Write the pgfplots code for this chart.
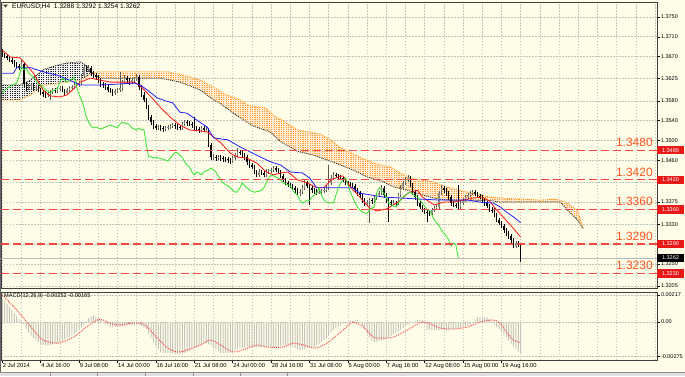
\documentclass[border=0pt]{standalone}
\usepackage{fontspec}
\setmainfont{Liberation Sans}
\usepackage{pgfplots}
\pgfplotsset{compat=1.18}
\usepackage{pgfplotstable}
\usetikzlibrary{patterns}

\definecolor{cream}{RGB}{255,253,232}
\definecolor{tenkan}{RGB}{255,20,20}
\definecolor{kijun}{RGB}{30,30,255}
\definecolor{chikou}{RGB}{50,225,50}
\definecolor{sandy}{RGB}{255,155,40}
\definecolor{kumodark}{RGB}{30,30,30}
\definecolor{levelred}{RGB}{240,70,70}
\definecolor{labelred}{RGB}{255,85,35}
\definecolor{boxred}{RGB}{232,25,25}
\definecolor{gridc}{RGB}{195,195,188}
\definecolor{bullc}{RGB}{140,140,130}
\definecolor{bullw}{RGB}{90,90,85}
\definecolor{histc}{RGB}{198,198,190}
\definecolor{sigc}{RGB}{245,70,70}

\pgfdeclarepatternformonly{kumo}{\pgfqpoint{-0.1pt}{-0.1pt}}{\pgfqpoint{2.5pt}{2.1pt}}{\pgfqpoint{2.4pt}{2pt}}{\pgfpathrectangle{\pgfqpoint{0pt}{0pt}}{\pgfqpoint{1.2pt}{1.1pt}}\pgfusepath{fill}}

\pgfplotstableread{
i o h l c
0 1.3680 1.3686 1.3668 1.3673
1 1.3673 1.3678 1.3666 1.3671
2 1.3671 1.3675 1.3662 1.3667
3 1.3667 1.3671 1.3659 1.3663
4 1.3663 1.3668 1.3655 1.3659
5 1.3659 1.3663 1.3648 1.3653
6 1.3653 1.3658 1.3646 1.3651
7 1.3651 1.3655 1.3642 1.3647
8 1.3647 1.3662 1.3644 1.3655
9 1.3655 1.3659 1.3608 1.3614
10 1.3614 1.3619 1.3600 1.3606
11 1.3606 1.3614 1.3602 1.3610
12 1.3610 1.3617 1.3605 1.3612
13 1.3612 1.3616 1.3601 1.3606
14 1.3606 1.3612 1.3600 1.3608
15 1.3608 1.3612 1.3597 1.3602
16 1.3602 1.3606 1.3592 1.3598
17 1.3598 1.3602 1.3588 1.3594
18 1.3594 1.3599 1.3586 1.3592
19 1.3592 1.3600 1.3587 1.3596
20 1.3596 1.3603 1.3582 1.3598
21 1.3598 1.3607 1.3594 1.3602
22 1.3602 1.3606 1.3595 1.3600
23 1.3600 1.3609 1.3596 1.3604
24 1.3604 1.3611 1.3599 1.3606
25 1.3606 1.3610 1.3597 1.3602
26 1.3602 1.3605 1.3590 1.3596
27 1.3596 1.3606 1.3592 1.3602
28 1.3602 1.3611 1.3598 1.3606
29 1.3606 1.3613 1.3602 1.3608
30 1.3608 1.3617 1.3604 1.3612
31 1.3612 1.3619 1.3607 1.3614
32 1.3614 1.3621 1.3609 1.3616
33 1.3616 1.3635 1.3612 1.3630
34 1.3630 1.3655 1.3626 1.3649
35 1.3649 1.3653 1.3638 1.3643
36 1.3643 1.3652 1.3639 1.3647
37 1.3647 1.3651 1.3631 1.3636
38 1.3636 1.3640 1.3627 1.3632
39 1.3632 1.3637 1.3623 1.3628
40 1.3628 1.3632 1.3617 1.3622
41 1.3622 1.3626 1.3609 1.3614
42 1.3614 1.3618 1.3606 1.3612
43 1.3612 1.3616 1.3603 1.3608
44 1.3608 1.3612 1.3597 1.3602
45 1.3602 1.3607 1.3595 1.3600
46 1.3600 1.3605 1.3590 1.3596
47 1.3596 1.3605 1.3592 1.3600
48 1.3600 1.3607 1.3596 1.3602
49 1.3602 1.3639 1.3598 1.3606
50 1.3606 1.3623 1.3601 1.3618
51 1.3618 1.3632 1.3614 1.3626
52 1.3626 1.3630 1.3617 1.3622
53 1.3622 1.3626 1.3613 1.3618
54 1.3618 1.3627 1.3614 1.3622
55 1.3622 1.3629 1.3617 1.3624
56 1.3624 1.3634 1.3620 1.3628
57 1.3628 1.3632 1.3603 1.3608
58 1.3608 1.3612 1.3587 1.3592
59 1.3592 1.3597 1.3577 1.3582
60 1.3582 1.3586 1.3563 1.3568
61 1.3568 1.3572 1.3542 1.3547
62 1.3547 1.3552 1.3532 1.3537
63 1.3537 1.3541 1.3524 1.3529
64 1.3529 1.3533 1.3520 1.3525
65 1.3525 1.3532 1.3521 1.3527
66 1.3527 1.3531 1.3519 1.3525
67 1.3525 1.3529 1.3517 1.3523
68 1.3523 1.3530 1.3519 1.3525
69 1.3525 1.3532 1.3521 1.3527
70 1.3527 1.3534 1.3523 1.3529
71 1.3529 1.3536 1.3525 1.3531
72 1.3531 1.3535 1.3524 1.3529
73 1.3529 1.3533 1.3521 1.3527
74 1.3527 1.3532 1.3520 1.3526
75 1.3526 1.3538 1.3522 1.3533
76 1.3533 1.3542 1.3529 1.3537
77 1.3537 1.3541 1.3530 1.3535
78 1.3535 1.3540 1.3529 1.3534
79 1.3534 1.3538 1.3526 1.3531
80 1.3531 1.3547 1.3520 1.3525
81 1.3525 1.3529 1.3518 1.3523
82 1.3523 1.3527 1.3515 1.3521
83 1.3521 1.3530 1.3517 1.3525
84 1.3525 1.3529 1.3516 1.3521
85 1.3521 1.3527 1.3517 1.3522
86 1.3522 1.3526 1.3486 1.3491
87 1.3491 1.3495 1.3460 1.3466
88 1.3466 1.3472 1.3461 1.3467
89 1.3467 1.3471 1.3459 1.3464
90 1.3464 1.3470 1.3460 1.3466
91 1.3466 1.3470 1.3459 1.3464
92 1.3464 1.3468 1.3457 1.3463
93 1.3463 1.3467 1.3456 1.3462
94 1.3462 1.3466 1.3454 1.3460
95 1.3460 1.3464 1.3452 1.3458
96 1.3458 1.3469 1.3454 1.3464
97 1.3464 1.3475 1.3460 1.3470
98 1.3470 1.3485 1.3466 1.3476
99 1.3476 1.3481 1.3470 1.3475
100 1.3475 1.3479 1.3465 1.3470
101 1.3470 1.3474 1.3461 1.3466
102 1.3466 1.3470 1.3451 1.3456
103 1.3456 1.3460 1.3445 1.3450
104 1.3450 1.3454 1.3441 1.3446
105 1.3446 1.3450 1.3431 1.3436
106 1.3436 1.3440 1.3425 1.3430
107 1.3430 1.3441 1.3426 1.3436
108 1.3436 1.3440 1.3429 1.3434
109 1.3434 1.3438 1.3425 1.3430
110 1.3430 1.3441 1.3426 1.3436
111 1.3436 1.3443 1.3432 1.3438
112 1.3438 1.3445 1.3434 1.3440
113 1.3440 1.3449 1.3436 1.3444
114 1.3444 1.3448 1.3436 1.3440
115 1.3440 1.3444 1.3431 1.3436
116 1.3436 1.3440 1.3423 1.3428
117 1.3428 1.3432 1.3415 1.3420
118 1.3420 1.3424 1.3409 1.3414
119 1.3414 1.3418 1.3405 1.3410
120 1.3410 1.3414 1.3403 1.3408
121 1.3408 1.3412 1.3399 1.3404
122 1.3404 1.3408 1.3394 1.3399
123 1.3399 1.3403 1.3390 1.3395
124 1.3395 1.3401 1.3388 1.3396
125 1.3396 1.3409 1.3392 1.3404
126 1.3404 1.3419 1.3400 1.3414
127 1.3414 1.3418 1.3403 1.3408
128 1.3408 1.3412 1.3369 1.3404
129 1.3404 1.3408 1.3394 1.3399
130 1.3399 1.3403 1.3392 1.3397
131 1.3397 1.3401 1.3390 1.3395
132 1.3395 1.3400 1.3391 1.3396
133 1.3396 1.3401 1.3392 1.3397
134 1.3397 1.3404 1.3393 1.3399
135 1.3399 1.3409 1.3395 1.3404
136 1.3404 1.3450 1.3400 1.3414
137 1.3414 1.3429 1.3410 1.3424
138 1.3424 1.3435 1.3420 1.3430
139 1.3430 1.3434 1.3423 1.3428
140 1.3428 1.3432 1.3421 1.3426
141 1.3426 1.3430 1.3419 1.3424
142 1.3424 1.3428 1.3415 1.3420
143 1.3420 1.3424 1.3409 1.3414
144 1.3414 1.3418 1.3407 1.3412
145 1.3412 1.3416 1.3405 1.3410
146 1.3410 1.3414 1.3403 1.3408
147 1.3408 1.3412 1.3394 1.3399
148 1.3399 1.3403 1.3388 1.3393
149 1.3393 1.3397 1.3384 1.3389
150 1.3389 1.3393 1.3374 1.3379
151 1.3379 1.3383 1.3367 1.3373
152 1.3373 1.3380 1.3369 1.3375
153 1.3375 1.3383 1.3333 1.3379
154 1.3379 1.3384 1.3372 1.3378
155 1.3378 1.3390 1.3374 1.3385
156 1.3385 1.3394 1.3380 1.3389
157 1.3389 1.3398 1.3385 1.3393
158 1.3393 1.3409 1.3389 1.3404
159 1.3404 1.3408 1.3384 1.3389
160 1.3389 1.3393 1.3374 1.3379
161 1.3379 1.3383 1.3335 1.3375
162 1.3375 1.3380 1.3368 1.3373
163 1.3373 1.3379 1.3369 1.3374
164 1.3374 1.3378 1.3368 1.3373
165 1.3373 1.3394 1.3369 1.3389
166 1.3389 1.3409 1.3385 1.3404
167 1.3404 1.3418 1.3400 1.3414
168 1.3414 1.3425 1.3410 1.3420
169 1.3420 1.3430 1.3416 1.3424
170 1.3424 1.3428 1.3405 1.3410
171 1.3410 1.3414 1.3390 1.3395
172 1.3395 1.3399 1.3380 1.3385
173 1.3385 1.3389 1.3368 1.3373
174 1.3373 1.3377 1.3360 1.3365
175 1.3365 1.3369 1.3354 1.3359
176 1.3359 1.3363 1.3350 1.3355
177 1.3355 1.3359 1.3335 1.3353
178 1.3353 1.3357 1.3347 1.3352
179 1.3352 1.3363 1.3348 1.3359
180 1.3359 1.3368 1.3355 1.3363
181 1.3363 1.3369 1.3359 1.3365
182 1.3365 1.3398 1.3361 1.3393
183 1.3393 1.3410 1.3389 1.3404
184 1.3404 1.3408 1.3394 1.3399
185 1.3399 1.3403 1.3388 1.3393
186 1.3393 1.3397 1.3380 1.3385
187 1.3385 1.3389 1.3368 1.3373
188 1.3373 1.3377 1.3364 1.3369
189 1.3369 1.3373 1.3362 1.3367
190 1.3367 1.3410 1.3360 1.3365
191 1.3365 1.3378 1.3361 1.3373
192 1.3373 1.3384 1.3369 1.3379
193 1.3379 1.3390 1.3375 1.3385
194 1.3385 1.3394 1.3381 1.3389
195 1.3389 1.3398 1.3385 1.3393
196 1.3393 1.3400 1.3389 1.3395
197 1.3395 1.3399 1.3387 1.3391
198 1.3391 1.3395 1.3383 1.3387
199 1.3387 1.3391 1.3381 1.3385
200 1.3385 1.3389 1.3374 1.3379
201 1.3379 1.3383 1.3368 1.3373
202 1.3373 1.3377 1.3362 1.3367
203 1.3367 1.3371 1.3354 1.3359
204 1.3359 1.3364 1.3353 1.3358
205 1.3358 1.3362 1.3344 1.3349
206 1.3349 1.3353 1.3334 1.3339
207 1.3339 1.3343 1.3328 1.3333
208 1.3333 1.3337 1.3322 1.3327
209 1.3327 1.3331 1.3313 1.3318
210 1.3318 1.3322 1.3307 1.3312
211 1.3312 1.3316 1.3301 1.3306
212 1.3306 1.3310 1.3293 1.3298
213 1.3298 1.3302 1.3281 1.3286
214 1.3286 1.3296 1.3282 1.3292
215 1.3292 1.3296 1.3283 1.3288
216 1.3288 1.3292 1.3254 1.3262
}\candles

\pgfplotstableread{
i v
0 0.00185
1 0.00165
2 0.00145
3 0.00120
4 0.00095
5 0.00070
6 0.00045
7 0.00025
8 0.00005
9 -0.00020
10 -0.00055
11 -0.00085
12 -0.00110
13 -0.00130
14 -0.00145
15 -0.00160
16 -0.00175
17 -0.00185
18 -0.00188
19 -0.00188
20 -0.00185
21 -0.00180
22 -0.00175
23 -0.00169
24 -0.00160
25 -0.00150
26 -0.00140
27 -0.00129
28 -0.00117
29 -0.00105
30 -0.00092
31 -0.00080
32 -0.00060
33 -0.00042
34 -0.00024
35 0.00005
36 0.00032
37 0.00045
38 0.00056
39 0.00045
40 0.00032
41 0.00016
42 0.00000
43 -0.00015
44 -0.00028
45 -0.00040
46 -0.00040
47 -0.00041
48 -0.00040
49 -0.00040
50 -0.00036
51 -0.00032
52 -0.00028
53 -0.00024
54 -0.00024
55 -0.00024
56 -0.00024
57 -0.00024
58 -0.00035
59 -0.00048
60 -0.00060
61 -0.00095
62 -0.00125
63 -0.00161
64 -0.00190
65 -0.00215
66 -0.00241
67 -0.00245
68 -0.00247
69 -0.00249
70 -0.00251
71 -0.00253
72 -0.00255
73 -0.00256
74 -0.00257
75 -0.00252
76 -0.00247
77 -0.00241
78 -0.00230
79 -0.00220
80 -0.00209
81 -0.00199
82 -0.00189
83 -0.00180
84 -0.00175
85 -0.00169
86 -0.00180
87 -0.00190
88 -0.00201
89 -0.00217
90 -0.00233
91 -0.00249
92 -0.00249
93 -0.00249
94 -0.00249
95 -0.00245
96 -0.00241
97 -0.00230
98 -0.00220
99 -0.00209
100 -0.00207
101 -0.00205
102 -0.00203
103 -0.00202
104 -0.00201
105 -0.00200
106 -0.00202
107 -0.00203
108 -0.00201
109 -0.00199
110 -0.00201
111 -0.00202
112 -0.00201
113 -0.00200
114 -0.00201
115 -0.00198
116 -0.00194
117 -0.00190
118 -0.00187
119 -0.00185
120 -0.00193
121 -0.00201
122 -0.00209
123 -0.00217
124 -0.00225
125 -0.00220
126 -0.00214
127 -0.00209
128 -0.00206
129 -0.00203
130 -0.00201
131 -0.00188
132 -0.00175
133 -0.00160
134 -0.00145
135 -0.00129
136 -0.00107
137 -0.00086
138 -0.00064
139 -0.00050
140 -0.00037
141 -0.00024
142 -0.00015
143 -0.00007
144 0.00002
145 0.00010
146 0.00012
147 0.00014
148 0.00016
149 -0.00008
150 -0.00030
151 -0.00060
152 -0.00100
153 -0.00125
154 -0.00150
155 -0.00161
156 -0.00157
157 -0.00153
158 -0.00149
159 -0.00145
160 -0.00134
161 -0.00123
162 -0.00111
163 -0.00100
164 -0.00088
165 -0.00076
166 -0.00062
167 -0.00048
168 -0.00035
169 -0.00022
170 -0.00010
171 0.00000
172 0.00010
173 0.00016
174 0.00016
175 0.00016
176 -0.00025
177 -0.00064
178 -0.00064
179 -0.00066
180 -0.00065
181 -0.00064
182 -0.00064
183 -0.00062
184 -0.00064
185 -0.00066
186 -0.00064
187 -0.00061
188 -0.00058
189 -0.00054
190 -0.00050
191 -0.00048
192 -0.00042
193 -0.00036
194 -0.00030
195 -0.00024
196 -0.00003
197 0.00020
198 0.00040
199 0.00042
200 0.00043
201 0.00042
202 0.00040
203 0.00022
204 0.00005
205 -0.00020
206 -0.00040
207 -0.00060
208 -0.00085
209 -0.00105
210 -0.00125
211 -0.00150
212 -0.00175
213 -0.00201
214 -0.00220
215 -0.00237
216 -0.00252
}\macd

\begin{document}
\begin{tikzpicture}
\fill[cream] (0pt,0pt) rectangle (685pt,-376pt);
\useasboundingbox (0pt,0pt) rectangle (685pt,-376pt);
\coordinate (XR) at (670.5pt,0pt);

\begin{axis}[
  at={(1pt,-2pt)}, anchor=north west, scale only axis,
  width=656pt, height=286pt,
  xmin=-0.54, xmax=272.8, ymin=1.32009, ymax=1.37803,
  axis line style={draw=black!75, line width=0.7pt},
  xtick={0,8,...,272}, xticklabels={},
  every major x tick/.append style={draw=none},
  xmajorgrids, ymajorgrids,
  major grid style={gridc, dash pattern=on 1.5pt off 1.5pt, line width=0.5pt},
  ytick={1.3750,1.3710,1.3670,1.3625,1.3580,1.3540,1.3500,1.3460,1.3415,1.3375,1.3330,1.3290,1.3250,1.3205},
  yticklabels={1.3750,1.3710,1.3670,1.3625,1.3580,1.3540,1.3500,1.3460,,1.3375,1.3330,,1.3250,1.3205},
  ytick pos=right, yticklabel pos=right, tick align=outside, major tick length=2.5pt,
  every major y tick/.append style={black, line width=0.4pt},
  yticklabel style={anchor=west, inner sep=1pt, xshift=0.3pt, font=\fontsize{5.5}{6}\selectfont},
  scaled y ticks=false,
]
% Kumo (cloud): Senkou B above A (dark region), then A above B (orange region)
\addplot[fill=black!6, draw=none] coordinates {
(0,1.3612) (7.5,1.3612) (11.7,1.3622) (17,1.3643) (22,1.3651) (27,1.3657) (32.5,1.3659) (34.6,1.3653) (38,1.3635)
(36,1.3632) (32.5,1.3622) (24,1.3616) (17,1.3612) (11.7,1.3592) (7.5,1.3582) (0,1.3582)} -- cycle;
\addplot[pattern=kumo, pattern color=kumodark, draw=none] coordinates {
(0,1.3612) (7.5,1.3612) (11.7,1.3622) (17,1.3643) (22,1.3651) (27,1.3657) (32.5,1.3659) (34.6,1.3653) (38,1.3635)
(36,1.3632) (32.5,1.3622) (24,1.3616) (17,1.3612) (11.7,1.3592) (7.5,1.3582) (0,1.3582)} -- cycle;
\addplot[fill=sandy!20, draw=none] coordinates {
(38,1.3635) (39.6,1.3639) (52,1.3639) (69,1.3639) (77,1.3630) (82.5,1.3622) (88,1.3608) (93,1.3593) (99,1.3582) (103,1.3570) (109.6,1.3566) (113,1.3551) (118,1.3537) (123,1.3521) (132.5,1.3513) (136.7,1.3501) (141,1.3485) (149,1.3466) (154.6,1.3454) (161.7,1.3446) (165.8,1.3434) (170,1.3424) (174,1.3420) (179.6,1.3416) (184.6,1.3406) (193.75,1.3395) (203.3,1.3385) (208.75,1.3383) (217,1.3381) (224,1.3379) (231,1.3381) (235.4,1.3373) (239.6,1.3359) (242,1.3322)
(239.6,1.3339) (235.4,1.3359) (232.5,1.3375) (224,1.3375) (207.5,1.3375) (202,1.3379) (193.75,1.3377) (185.4,1.3379) (179.6,1.3383) (174,1.3391) (168.75,1.3399) (163,1.3406) (158.75,1.3416) (152,1.3426) (146,1.3440) (142,1.3448) (136.7,1.3458) (129.6,1.3470) (123,1.3478) (116,1.3497) (111.7,1.3517) (104.6,1.3529) (98,1.3549) (91,1.3574) (88,1.3582) (82.5,1.3602) (74,1.3618) (66,1.3626) (54.6,1.3626) (41,1.3626) (38,1.3634)} -- cycle;
\addplot[pattern=kumo, pattern color=sandy, draw=none] coordinates {
(38,1.3635) (39.6,1.3639) (52,1.3639) (69,1.3639) (77,1.3630) (82.5,1.3622) (88,1.3608) (93,1.3593) (99,1.3582) (103,1.3570) (109.6,1.3566) (113,1.3551) (118,1.3537) (123,1.3521) (132.5,1.3513) (136.7,1.3501) (141,1.3485) (149,1.3466) (154.6,1.3454) (161.7,1.3446) (165.8,1.3434) (170,1.3424) (174,1.3420) (179.6,1.3416) (184.6,1.3406) (193.75,1.3395) (203.3,1.3385) (208.75,1.3383) (217,1.3381) (224,1.3379) (231,1.3381) (235.4,1.3373) (239.6,1.3359) (242,1.3322)
(239.6,1.3339) (235.4,1.3359) (232.5,1.3375) (224,1.3375) (207.5,1.3375) (202,1.3379) (193.75,1.3377) (185.4,1.3379) (179.6,1.3383) (174,1.3391) (168.75,1.3399) (163,1.3406) (158.75,1.3416) (152,1.3426) (146,1.3440) (142,1.3448) (136.7,1.3458) (129.6,1.3470) (123,1.3478) (116,1.3497) (111.7,1.3517) (104.6,1.3529) (98,1.3549) (91,1.3574) (88,1.3582) (82.5,1.3602) (74,1.3618) (66,1.3626) (54.6,1.3626) (41,1.3626) (38,1.3634)} -- cycle;
% Senkou span A (orange) and B (dark), shifted 26 bars ahead
\addplot[sandy, line width=0.9pt, dash pattern=on 1pt off 1pt] coordinates {
(0,1.3582) (7.5,1.3582) (11.7,1.3592) (17,1.3612) (24,1.3616) (32.5,1.3622) (36,1.3632) (38,1.3636) (39.6,1.3639) (52,1.3639) (69,1.3639) (77,1.3630) (82.5,1.3622) (88,1.3608) (93,1.3593) (99,1.3582) (103,1.3570) (109.6,1.3566) (113,1.3551) (118,1.3537) (123,1.3521) (132.5,1.3513) (136.7,1.3501) (141,1.3485) (149,1.3466) (154.6,1.3454) (161.7,1.3446) (165.8,1.3434) (170,1.3424) (174,1.3420) (179.6,1.3416) (184.6,1.3406) (193.75,1.3395) (203.3,1.3385) (208.75,1.3383) (217,1.3381) (224,1.3379) (231,1.3381) (235.4,1.3373) (239.6,1.3359) (242,1.3322)};
\addplot[kumodark, line width=0.8pt, dash pattern=on 1pt off 1pt] coordinates {
(0,1.3612) (7.5,1.3612) (11.7,1.3622) (17,1.3643) (22,1.3651) (27,1.3657) (32.5,1.3659) (34.6,1.3653) (38,1.3634) (41,1.3626) (54.6,1.3626) (66,1.3626) (74,1.3618) (82.5,1.3602) (88,1.3582) (91,1.3574) (98,1.3549) (104.6,1.3529) (111.7,1.3517) (116,1.3497) (123,1.3478) (129.6,1.3470) (136.7,1.3458) (142,1.3448) (146,1.3440) (152,1.3426) (158.75,1.3416) (163,1.3406) (168.75,1.3399) (174,1.3391) (179.6,1.3383) (185.4,1.3379) (193.75,1.3377) (202,1.3379) (207.5,1.3375) (224,1.3375) (232.5,1.3375) (235.4,1.3359) (239.6,1.3339) (242,1.3321)};

% current bid line
\addplot[gray!55, line width=0.5pt] coordinates {(-0.54,1.3262) (272.8,1.3262)};

% candles: bull
\addplot[mark=none, draw=none, forget plot,
  restrict expr to domain={\thisrow{c}-\thisrow{o}}{0:1},
  error bars/.cd, y dir=plus, y explicit, error mark=none,
  error bar style={draw=bullw, line width=0.5pt}]
  table[x=i, y=l, y error expr=\thisrow{h}-\thisrow{l}] {\candles};
\addplot[mark=none, draw=none, forget plot,
  restrict expr to domain={\thisrow{c}-\thisrow{o}}{0:1},
  error bars/.cd, y dir=plus, y explicit, error mark=none,
  error bar style={draw=bullc, line width=1.5pt}]
  table[x=i, y expr={min(\thisrow{o},\thisrow{c})}, y error expr={max(abs(\thisrow{c}-\thisrow{o}),0.00008)}] {\candles};
% candles: bear
\addplot[mark=none, draw=none, forget plot,
  restrict expr to domain={\thisrow{o}-\thisrow{c}}{0.00001:1},
  error bars/.cd, y dir=plus, y explicit, error mark=none,
  error bar style={draw=black, line width=0.5pt}]
  table[x=i, y=l, y error expr=\thisrow{h}-\thisrow{l}] {\candles};
\addplot[mark=none, draw=none, forget plot,
  restrict expr to domain={\thisrow{o}-\thisrow{c}}{0.00001:1},
  error bars/.cd, y dir=plus, y explicit, error mark=none,
  error bar style={draw=black, line width=1.5pt}]
  table[x=i, y expr={min(\thisrow{o},\thisrow{c})}, y error expr={max(abs(\thisrow{c}-\thisrow{o}),0.00008)}] {\candles};

% Tenkan-sen
\addplot[tenkan, line width=0.8pt] coordinates {
(0,1.3683) (3.3,1.3669) (7.5,1.3667) (13,1.3636) (17,1.3602) (20,1.3590) (24,1.3588) (27,1.3592) (30,1.3606) (32.5,1.3618) (36.7,1.3626) (41,1.3622) (45,1.3618) (55,1.3618) (57.5,1.3610) (62,1.3588) (66,1.3566) (70,1.3547) (74,1.3531) (78,1.3521) (82.5,1.3519) (85.4,1.3517) (88,1.3507) (91,1.3495) (95,1.3474) (98,1.3466) (102,1.3464) (106,1.3454) (110,1.3436) (113,1.3430) (116,1.3434) (119,1.3436) (123,1.3420) (127,1.3414) (131,1.3404) (134,1.3404) (137,1.3420) (140,1.3426) (142,1.3428) (145,1.3406) (149,1.3385) (153,1.3363) (156,1.3357) (160,1.3361) (165,1.3375) (169,1.3393) (173,1.3399) (175,1.3385) (180,1.3369) (184,1.3375) (188,1.3375) (192,1.3379) (196,1.3383) (200,1.3385) (203,1.3377) (206,1.3359) (209,1.3343) (212,1.3327) (216,1.3304)};
% Kijun-sen
\addplot[kijun, line width=0.8pt] coordinates {
(0,1.3636) (4.6,1.3636) (6,1.3647) (12,1.3647) (17,1.3639) (23,1.3632) (28,1.3622) (32.5,1.3612) (41,1.3612) (55,1.3616) (57.5,1.3612) (60.4,1.3602) (64.6,1.3586) (68,1.3580) (71,1.3576) (74,1.3557) (77,1.3555) (81,1.3541) (85.4,1.3527) (88,1.3505) (94,1.3501) (99,1.3487) (106,1.3470) (112,1.3456) (116,1.3450) (120,1.3436) (125,1.3434) (128,1.3424) (131,1.3404) (142,1.3404) (146,1.3404) (149,1.3393) (159,1.3385) (167,1.3383) (174,1.3381) (182.5,1.3379) (194,1.3379) (199,1.3375) (204.6,1.3373) (207.5,1.3365) (210,1.3355) (213,1.3345) (216,1.3333)};
% Chikou span: close shifted 26 bars back
\addplot[chikou, line width=0.8pt, restrict x to domain=-0.1:200] table[x expr=\thisrow{i}-26, y=c] {\candles};

% support / resistance levels
\addplot[levelred, line width=1.1pt, dash pattern=on 8pt off 4pt] coordinates {(-0.54,1.3480) (272.8,1.3480)};
\addplot[levelred, line width=1.1pt, dash pattern=on 8pt off 4pt] coordinates {(-0.54,1.3420) (272.8,1.3420)};
\addplot[levelred, line width=1.1pt, dash pattern=on 8pt off 4pt] coordinates {(-0.54,1.3360) (272.8,1.3360)};
\addplot[levelred, line width=1.1pt, dash pattern=on 8pt off 4pt] coordinates {(-0.54,1.3290) (272.8,1.3290)};
\addplot[levelred, line width=1.1pt, dash pattern=on 8pt off 4pt] coordinates {(-0.54,1.3230) (272.8,1.3230)};

\node[anchor=south east, inner sep=0pt, text=labelred, font=\fontsize{12}{12}\selectfont] at (axis cs:271.1,1.3486) {1.3480};
\node[anchor=south east, inner sep=0pt, text=labelred, font=\fontsize{12}{12}\selectfont] at (axis cs:271.1,1.3426) {1.3420};
\node[anchor=south east, inner sep=0pt, text=labelred, font=\fontsize{12}{12}\selectfont] at (axis cs:271.1,1.3368) {1.3360};
\node[anchor=south east, inner sep=0pt, text=labelred, font=\fontsize{12}{12}\selectfont] at (axis cs:271.1,1.3296) {1.3290};
\node[anchor=south east, inner sep=0pt, text=labelred, font=\fontsize{12}{12}\selectfont] at (axis cs:271.1,1.3238) {1.3230};

\coordinate (L1) at (axis cs:0,1.3480);
\coordinate (L2) at (axis cs:0,1.3420);
\coordinate (L3) at (axis cs:0,1.3360);
\coordinate (L4) at (axis cs:0,1.3290);
\coordinate (L5) at (axis cs:0,1.3230);
\coordinate (LP) at (axis cs:0,1.3262);
\end{axis}

\begin{axis}[
  at={(1pt,-292pt)}, anchor=north west, scale only axis,
  width=656pt, height=68pt,
  xmin=-0.54, xmax=272.8, ymin=-0.00305, ymax=0.00241,
  axis line style={draw=black!75, line width=0.7pt},
  xtick={0,16,...,208},
  xticklabels={2 Jul 2014,4 Jul 16:00,9 Jul 08:00,14 Jul 00:00,16 Jul 16:00,21 Jul 08:00,24 Jul 00:00,28 Jul 16:00,31 Jul 08:00,5 Aug 00:00,7 Aug 16:00,12 Aug 08:00,15 Aug 00:00,19 Aug 16:00},
  minor xtick={8,16,...,272},
  every minor x tick/.append style={draw=none},
  xmajorgrids, xminorgrids, ymajorgrids,
  major grid style={gridc, dash pattern=on 1.5pt off 1.5pt, line width=0.5pt},
  minor grid style={gridc, dash pattern=on 1.5pt off 1.5pt, line width=0.5pt},
  xtick pos=left, ytick pos=right, yticklabel pos=right,
  tick align=outside, major tick length=2.5pt,
  every major tick/.append style={black, line width=0.4pt},
  xticklabel style={anchor=north west, inner sep=0.5pt, yshift=-0.3pt, font=\fontsize{5.8}{6}\selectfont},
  ytick={0.00217,0,-0.00275}, yticklabels={0.00217,0.00,-0.00275},
  yticklabel style={anchor=west, inner sep=1pt, xshift=0.3pt, font=\fontsize{5.5}{6}\selectfont},
  scaled y ticks=false,
]
\addplot[ybar, bar width=1pt, draw=none, fill=histc] table[x=i, y=v] {\macd};
\addplot[sigc, line width=0.9pt, dash pattern=on 1pt off 1pt, smooth] coordinates {
(0,0.00217) (6,0.00096) (13,-0.00064) (17,-0.00145) (23,-0.00170) (27,-0.00145) (31,-0.00105) (35,-0.00040) (39.6,0.00016) (42,0.00016) (45,-0.00010) (49,-0.00024) (53,-0.00010) (57.5,-0.00010) (60.4,-0.00040) (64.6,-0.00129) (69,-0.00209) (73,-0.00241) (77,-0.00225) (82.5,-0.00185) (86.7,-0.00145) (91,-0.00185) (96,-0.00241) (100,-0.00225) (106,-0.00185) (110,-0.00201) (117,-0.00201) (121,-0.00169) (125.4,-0.00185) (130,-0.00209) (134,-0.00185) (138,-0.00129) (143,-0.00048) (146,-0.00002) (150.5,-0.00040) (154.6,-0.00121) (158.75,-0.00129) (163,-0.00121) (168.75,-0.00064) (175.4,0.00000) (182.5,-0.00048) (188,-0.00056) (194,-0.00040) (199,0.00000) (204.6,0.00016) (207.5,-0.00010) (210.4,-0.00088) (213,-0.00145) (216,-0.00165)};
\end{axis}

% price boxes on the right scale
\foreach \c/\t in {L1/1.3480,L2/1.3420,L3/1.3360,L4/1.3290,L5/1.3230}{
  \node[fill=boxred, text=white, inner sep=0pt, minimum width=27pt, minimum height=8.5pt, font=\fontsize{5.5}{6}\selectfont] at (\c -| XR) {\t};
}
\node[fill=black, text=white, inner sep=0pt, minimum width=27pt, minimum height=8.5pt, font=\fontsize{5.5}{6}\selectfont] at (LP -| XR) {1.3262};

% titles
\fill[black!75] (3pt,-4.5pt) -- (8pt,-4.5pt) -- (5.5pt,-7.5pt) -- cycle;
\node[anchor=west, inner sep=0pt, font=\fontsize{6.6}{7}\selectfont] at (12pt,-6.3pt) {EURUSD,H4\ \ 1.3288 1.3292 1.3254 1.3262};
\node[anchor=west, inner sep=0pt, font=\fontsize{5.6}{6}\selectfont] at (4pt,-296.5pt) {MACD(12,26,9) -0.00252 -0.00165};

% bottom tab strip
\fill[black!12] (0pt,-372pt) rectangle (685pt,-376pt);
\draw[black!45, line width=0.5pt] (0pt,-372pt) -- (685pt,-372pt);
\foreach \x in {50,97,145,193,240,287}{\draw[black!45, line width=0.5pt] (\x pt,-372pt) -- (\x pt,-376pt);}
\draw[black!60, line width=1pt] (0.5pt,0pt) -- (0.5pt,-372pt);
\end{tikzpicture}
\end{document}
